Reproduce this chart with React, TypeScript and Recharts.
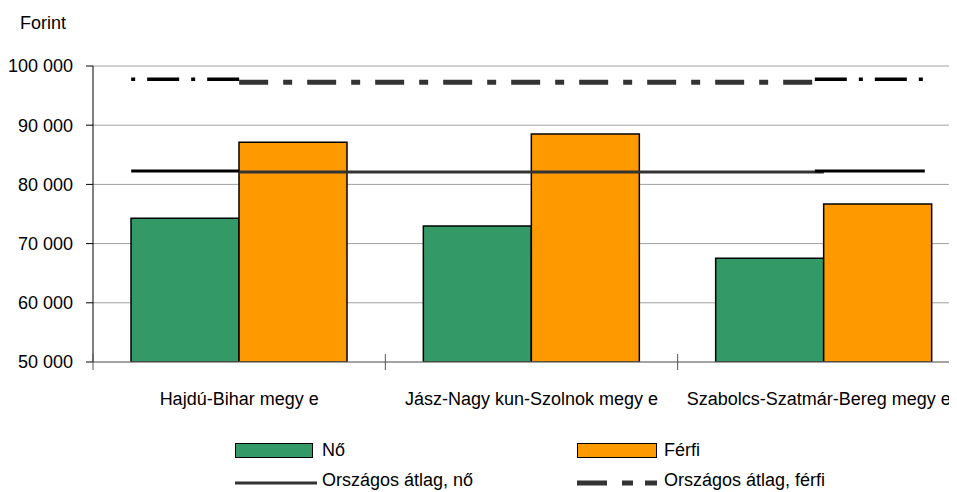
import React from 'react'
import { ComposedChart, Bar, Line, XAxis, YAxis, CartesianGrid } from 'recharts'

const categories = ['Hajdú-Bihar megy e', 'Jász-Nagy kun-Szolnok megy e', 'Szabolcs-Szatmár-Bereg megy e']
const noValues = [74270, 72970, 67520]
const ferfiValues = [87110, 88510, 76690]
const noAvg = [82100, 82100, 82100]
const ferfiAvg = [97250, 97250, 97250]
const yTicks = [50000, 60000, 70000, 80000, 90000, 100000]

const data = categories.map((name, i) => ({
	name,
	no: noValues[i],
	ferfi: ferfiValues[i],
	noAvg: noAvg[i],
	ferfiAvg: ferfiAvg[i]
}))

const FONT = '"Liberation Sans", Arial, sans-serif'
const CHART_W = 980
const CHART_H = 492
const MARGIN = { top: 66, right: 10, left: 0, bottom: 70 }
const Y_W = 93
const BAND = (CHART_W - MARGIN.left - MARGIN.right - Y_W) / categories.length
const X_TICK_MARGIN = 30

const fmt = (v: number) => String(v).replace(/\B(?=(\d{3})+(?!\d))/g, ' ')

const CategoryTick = (props: any) => {
	const { x, y, payload, index } = props
	const axisY = y - X_TICK_MARGIN
	const left = x - BAND / 2
	// last label is nudged left so it stays inside the picture
	const dx = index === categories.length - 1 ? -5 : 0
	return (
		<g>
			<line x1={left} x2={left} y1={axisY - 8} y2={axisY + 8} stroke="#555" strokeWidth={1} />
			<text x={x + dx} y={y} dy="0.71em" textAnchor="middle" fontSize={18} fontFamily={FONT} fill="#000">
				{payload.value}
			</text>
		</g>
	)
}

// black end pieces of the average lines, drawn from the first and last point
const capDot = (width: number, dy: number, leftDash?: string, rightDash?: string) => (props: any) => {
	const { cx, cy, index } = props
	if (index === 0) {
		return (
			<line key="c0" x1={cx - 108} x2={cx} y1={cy + dy} y2={cy + dy} stroke="#000" strokeWidth={width} strokeDasharray={leftDash} />
		)
	}
	if (index === categories.length - 1) {
		return (
			<line key="c2" x1={cx - 9} x2={cx + 101} y1={cy + dy} y2={cy + dy} stroke="#000" strokeWidth={width} strokeDasharray={rightDash} />
		)
	}
	return <g key={'c' + index} />
}

const legendText: React.CSSProperties = { position: 'absolute', fontSize: 18, fontFamily: FONT, lineHeight: '18px', color: '#000', whiteSpace: 'nowrap' }

export default function App() {
	return (
		<div style={{ position: 'relative', margin: '-8px -8px 0 -8px', width: 957, height: 492, overflow: 'hidden', background: '#fff' }}>
			<div style={{ ...legendText, left: 20, top: 14 }}>Forint</div>
			<ComposedChart width={CHART_W} height={CHART_H} data={data} margin={MARGIN} barCategoryGap="13%" barGap={0}>
				<CartesianGrid vertical={false} stroke="#a0a0a0" />
				<XAxis
					dataKey="name"
					tickLine={false}
					tickSize={0}
					tickMargin={X_TICK_MARGIN}
					height={60}
					axisLine={{ stroke: '#777' }}
					tick={<CategoryTick />}
					interval={0}
				/>
				<YAxis
					width={Y_W}
					domain={[50000, 100000]}
					ticks={yTicks}
					tickFormatter={fmt}
					tickSize={7}
					tickMargin={13}
					axisLine={{ stroke: '#000' }}
					tickLine={{ stroke: '#000' }}
					tick={{ fontSize: 18, fontFamily: FONT, fill: '#000' }}
					allowDataOverflow
				/>
				<Bar dataKey="no" name="Nő" fill="#339966" stroke="#000" strokeWidth={1.5} isAnimationActive={false} />
				<Bar dataKey="ferfi" name="Férfi" fill="#ff9900" stroke="#000" strokeWidth={1.5} isAnimationActive={false} />
				<Line
					dataKey="noAvg"
					name="Országos átlag, nő"
					stroke="#333"
					strokeWidth={3}
					dot={capDot(3, -1)}
					activeDot={false}
					isAnimationActive={false}
				/>
				<Line
					dataKey="ferfiAvg"
					name="Országos átlag, férfi"
					stroke="#333"
					strokeWidth={5}
					strokeDasharray="29 15 9 15"
					dot={capDot(3.5, -3, '4 12 32 12', '32 12 4 12')}
					activeDot={false}
					isAnimationActive={false}
				/>
			</ComposedChart>

			{/* legend */}
			<div style={{ position: 'absolute', left: 235, top: 443, width: 76, height: 13, background: '#339966', border: '1.5px solid #000' }} />
			<div style={{ ...legendText, left: 322, top: 441 }}>Nő</div>
			<div style={{ position: 'absolute', left: 577, top: 443, width: 78, height: 13, background: '#ff9900', border: '1.5px solid #000' }} />
			<div style={{ ...legendText, left: 664, top: 441 }}>Férfi</div>
			<svg style={{ position: 'absolute', left: 0, top: 0 }} width={957} height={492}>
				<line x1={235} x2={317} y1={483} y2={483} stroke="#333" strokeWidth={3} />
				<line x1={577} x2={657} y1={483} y2={483} stroke="#333" strokeWidth={5} strokeDasharray="30 15 11 12 12" />
			</svg>
			<div style={{ ...legendText, left: 322, top: 471 }}>Országos átlag, nő</div>
			<div style={{ ...legendText, left: 664, top: 471 }}>Országos átlag, férfi</div>
		</div>
	)
}
